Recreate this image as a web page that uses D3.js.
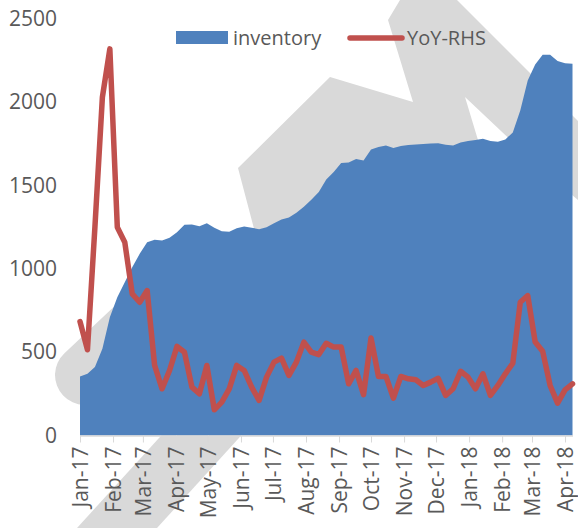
<!DOCTYPE html>
<html lang="en">
  <head>
    <meta charset="utf-8" />
    <title>Inventory and YoY</title>
    <script src="https://d3js.org/d3.v7.min.js" charset="utf-8"></script>
    <style>
      body {
        margin: 0;
        background: #fff;
      }
      svg text {
        font-family: "Open Sans", sans-serif;
        fill: #595959;
      }
      .axis path,
      .axis line {
        stroke: #d9d9d9;
      }
    </style>
  </head>

  <body>
    <div id="svg-container"></div>

    <script>
      // weekly data, first week and tick labels
      const firstWeek = "2017-01-01";
      const monthLabels = ["Jan-17", "Feb-17", "Mar-17", "Apr-17", "May-17", "Jun-17", "Jul-17", "Aug-17",
        "Sep-17", "Oct-17", "Nov-17", "Dec-17", "Jan-18", "Feb-18", "Mar-18", "Apr-18"];
      const yTicks = [0, 500, 1000, 1500, 2000, 2500];

      const inventory = [354, 370, 410, 520, 709, 829, 919, 1009, 1089, 1159, 1173, 1169, 1185, 1219, 1263, 1265,
        1255, 1273, 1245, 1225, 1222, 1242, 1253, 1245, 1237, 1249, 1273, 1295, 1307, 1335, 1372, 1413,
        1460, 1535, 1580, 1634, 1637, 1658, 1649, 1715, 1730, 1739, 1724, 1736, 1741, 1745, 1748, 1751,
        1752, 1743, 1739, 1757, 1766, 1772, 1779, 1766, 1761, 1775, 1817, 1948, 2128, 2224, 2282, 2282,
        2245, 2232, 2228];

      const yoy = [683, 514, 1250, 2028, 2318, 1249, 1159, 849, 799, 869, 420, 280, 390, 534, 499, 290,
        250, 420, 154, 200, 280, 420, 390, 290, 210, 350, 440, 464, 360, 440, 560, 500,
        485, 553, 530, 530, 310, 390, 245, 585, 354, 354, 224, 354, 340, 334, 300, 320,
        343, 240, 280, 385, 350, 280, 370, 240, 300, 370, 433, 799, 839, 560, 505, 300,
        194, 274, 310];

      const margin = { top: 18.5, bottom: 92.5, left: 80, right: 5.5 };
      const width = 578 - margin.left - margin.right;
      const height = 528 - margin.top - margin.bottom;

      const svg = d3.select("#svg-container")
        .append("svg")
        .attr("width", 578)
        .attr("height", 528);

      // grey watermark in the background
      const wm = svg.append("g").attr("fill", "#d9d9d9");
      wm.append("path")
        .attr("d", "M238,168 L330,77 L413,102 L388,20 L400,0 L457,0 L578,121 L578,200 L540,168 L465,97 L484,160 L257,240 Z");
      wm.append("path")
        .attr("d", "M77,528 L200,393 L280,393 L157,528 Z");
      wm.append("path")
        .attr("d", "M85,375 L200,267")
        .attr("stroke", "#d9d9d9")
        .attr("stroke-width", 60)
        .attr("stroke-linecap", "round");

      const g = svg.append("g").attr("transform", `translate(${margin.left},${margin.top})`);

      const parseWeek = d3.timeParse("%Y-%m-%d");
      const parseMonth = d3.timeParse("%b-%y");
      const weeks = d3.timeWeek.range(parseWeek(firstWeek), d3.timeDay.offset(parseWeek(firstWeek), 7 * inventory.length));
      const data = weeks.map((w, i) => ({ date: w, inv: inventory[i], yoy: yoy[i] }));
      const monthDates = monthLabels.map(parseMonth);

      const xscale = d3.scaleTime().domain(d3.extent(weeks)).range([0, width]);
      const yscale = d3.scaleLinear().domain([0, 2500]).range([height, 0]);

      // area
      const area = d3.area()
        .x((d) => xscale(d.date))
        .y0(yscale(0))
        .y1((d) => yscale(d.inv));
      g.append("path")
        .datum(data)
        .attr("fill", "#4f81bd")
        .attr("d", area);

      // axes
      const xaxis = d3.axisBottom(xscale)
        .tickValues(monthDates)
        .tickFormat((d, i) => monthLabels[i])
        .tickSize(7)
        .tickSizeOuter(0);
      const g_xaxis = g.append("g")
        .attr("class", "x axis")
        .attr("transform", `translate(0,${height})`)
        .call(xaxis);
      g_xaxis.select(".domain").attr("stroke-width", 1.3);
      g_xaxis.selectAll("text")
        .attr("transform", "rotate(-90)")
        .attr("x", -11)
        .attr("y", 0)
        .attr("dy", "0.35em")
        .attr("text-anchor", "end")
        .style("font-size", "21px");

      const yaxis = d3.axisLeft(yscale).tickValues(yTicks).tickFormat(d3.format("d")).tickSize(0).tickPadding(23);
      const g_yaxis = g.append("g").attr("class", "y axis").call(yaxis);
      g_yaxis.select(".domain").remove();
      g_yaxis.selectAll("text").style("font-size", "21px");

      // yoy line
      const line = d3.line()
        .x((d) => xscale(d.date))
        .y((d) => yscale(d.yoy));
      g.append("path")
        .datum(data)
        .attr("fill", "none")
        .attr("stroke", "#c0504d")
        .attr("stroke-width", 5.5)
        .attr("stroke-linejoin", "round")
        .attr("stroke-linecap", "round")
        .attr("d", line);

      // legend
      const legend = svg.append("g").style("font-size", "20px");
      legend.append("rect")
        .attr("x", 176).attr("y", 31)
        .attr("width", 52).attr("height", 13)
        .attr("fill", "#4f81bd");
      legend.append("text")
        .attr("x", 233).attr("y", 38)
        .attr("dy", "0.35em")
        .text("inventory");
      legend.append("line")
        .attr("x1", 350).attr("x2", 402)
        .attr("y1", 38).attr("y2", 38)
        .attr("stroke", "#c0504d")
        .attr("stroke-width", 5.5)
        .attr("stroke-linecap", "round");
      legend.append("text")
        .attr("x", 407).attr("y", 38)
        .attr("dy", "0.35em")
        .text("YoY-RHS");
    </script>
  </body>
</html>
